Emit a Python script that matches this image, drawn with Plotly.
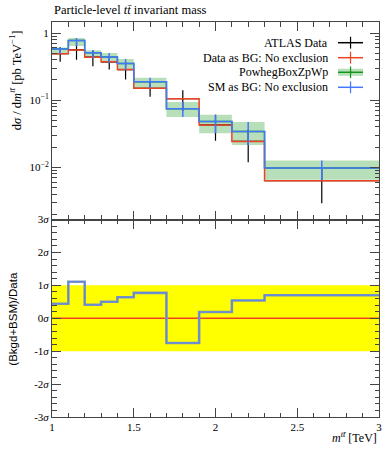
import plotly.graph_objects as go

# ---- data ----
edges = [1.0, 1.1, 1.2, 1.3, 1.4, 1.5, 1.7, 1.9, 2.1, 2.3, 3.0]
data_vals = [0.493, 0.56, 0.437, 0.372, 0.286, 0.150, 0.105, 0.0428, 0.0243, 0.00633]
data_err = [0.12, 0.16, 0.117, 0.086, 0.083, 0.037, 0.036, 0.018, 0.0124, 0.0034]
red_vals = [0.493, 0.56, 0.437, 0.372, 0.286, 0.150, 0.105, 0.0428, 0.0243, 0.00633]
blue_vals = [0.579, 0.777, 0.51, 0.438, 0.351, 0.188, 0.0748, 0.048, 0.0341, 0.00977]
green_vals = [0.579, 0.777, 0.51, 0.438, 0.351, 0.188, 0.0748, 0.048, 0.0341, 0.00977]
green_hi = [0.61, 0.84, 0.553, 0.505, 0.412, 0.215, 0.094, 0.0605, 0.0473, 0.0127]
green_lo = [0.49, 0.64, 0.426, 0.36, 0.279, 0.150, 0.056, 0.0323, 0.0215, 0.00655]
ratio_blue = [0.44, 1.11, 0.41, 0.50, 0.64, 0.77, -0.75, 0.19, 0.54, 0.70]
ratio_red = [0, 0, 0, 0, 0, 0, 0, 0, 0, 0]
band_x = [1.0, 3.0]
band_lo = [-1, -1]
band_hi = [1, 1]

top_tickvals = [1, 0.1, 0.01]
top_ticktext = ["1", "10<sup>−1</sup>", "10<sup>−2</sup>"]
ratio_tickvals = [3, 2, 1, 0, -1, -2, -3]
ratio_ticktext = ["3<i>σ</i>", "2<i>σ</i>", "1<i>σ</i>", "0<i>σ</i>", "-1<i>σ</i>", "-2<i>σ</i>", "-3<i>σ</i>"]

RED = "#EE4422"
BLUE = "#4477FF"
GREEN = "#109618"
GREEN_FILL = "rgba(16,150,24,0.3)"
SERIF = "Liberation Serif"
SANS = "Liberation Sans"

centers = [(edges[i] + edges[i + 1]) / 2 for i in range(len(edges) - 1)]
halfw = [(edges[i + 1] - edges[i]) / 2 for i in range(len(edges) - 1)]


def step(vals):
    return list(vals) + [vals[-1]]


fig = go.Figure()

# green band
fig.add_trace(go.Scatter(x=edges, y=step(green_lo), mode="lines", line=dict(width=0, shape="hv"),
                         xaxis="x2", yaxis="y2", showlegend=False, hoverinfo="skip"))
fig.add_trace(go.Scatter(x=edges, y=step(green_hi), mode="lines", line=dict(width=0, shape="hv"),
                         fill="tonexty", fillcolor=GREEN_FILL, xaxis="x2", yaxis="y2",
                         showlegend=False, hoverinfo="skip"))
fig.add_trace(go.Scatter(x=edges, y=step(green_vals), mode="lines", line=dict(color=GREEN, width=1.5, shape="hv"),
                         xaxis="x2", yaxis="y2", name="PowhegBoxZpWp", showlegend=False))

# data
fig.add_trace(go.Scatter(x=centers, y=data_vals, mode="markers", marker=dict(size=1, color="black"),
                         error_y=dict(type="data", array=data_err, color="black", thickness=1.2, width=0),
                         error_x=dict(type="data", array=halfw, color="black", thickness=1.2, width=0),
                         xaxis="x2", yaxis="y2", name="ATLAS Data", showlegend=False))
# red
fig.add_trace(go.Scatter(x=edges, y=step(red_vals), mode="lines", line=dict(color=RED, width=1.5, shape="hv"),
                         xaxis="x2", yaxis="y2", name="Data as BG: No exclusion", showlegend=False))
# blue
fig.add_trace(go.Scatter(x=edges, y=step(blue_vals), mode="lines", line=dict(color=BLUE, width=1.5, shape="hv"),
                         xaxis="x2", yaxis="y2", name="SM as BG: No exclusion", showlegend=False))
fig.add_trace(go.Scatter(x=centers, y=blue_vals, mode="markers", marker=dict(size=1, color=BLUE),
                         error_y=dict(type="data", symmetric=False,
                                      array=[h - b for h, b in zip(green_hi, blue_vals)],
                                      arrayminus=[b - l for b, l in zip(blue_vals, green_lo)],
                                      color=BLUE, thickness=1.5, width=0),
                         xaxis="x2", yaxis="y2", showlegend=False, hoverinfo="skip"))

# ratio panel
fig.add_trace(go.Scatter(x=band_x, y=band_lo, mode="lines", line=dict(width=0),
                         xaxis="x", yaxis="y", showlegend=False, hoverinfo="skip"))
fig.add_trace(go.Scatter(x=band_x, y=band_hi, mode="lines", line=dict(width=0), fill="tonexty",
                         fillcolor="#FFFF00", xaxis="x", yaxis="y", showlegend=False, hoverinfo="skip"))
fig.add_trace(go.Scatter(x=edges, y=step(ratio_red), mode="lines", line=dict(color=RED, width=1.5, shape="hv"),
                         xaxis="x", yaxis="y", showlegend=False))
fig.add_trace(go.Scatter(x=edges, y=step(ratio_blue), mode="lines", line=dict(color="#8a96a8", width=2.6, shape="hv"),
                         xaxis="x", yaxis="y", showlegend=False, hoverinfo="skip"))
fig.add_trace(go.Scatter(x=edges, y=step(ratio_blue), mode="lines", line=dict(color="#5a8ae8", width=1.2, shape="hv"),
                         xaxis="x", yaxis="y", showlegend=False))

# axes
AXC = "#444444"
tickfont = dict(family=SERIF, size=11, color="black")
xcommon = dict(range=[1, 3], showline=True, linecolor=AXC, linewidth=1, mirror="ticks",
               ticks="inside", ticklen=9, tickcolor=AXC, tick0=1, dtick=0.5, automargin=False,
               minor=dict(ticks="inside", ticklen=4.5, dtick=0.1, tickcolor=AXC, showgrid=False),
               showgrid=False, zeroline=False, tickfont=tickfont)

log_minor = [m * 10 ** k for k in range(-3, 1) for m in range(2, 10)]

fig.update_layout(
    template="none",
    width=392, height=450,
    margin=dict(l=52, r=13, t=22, b=33, autoexpand=False),
    paper_bgcolor="white", plot_bgcolor="white",
    showlegend=False,
    hovermode=False,
    xaxis=dict(**xcommon, anchor="y", showticklabels=True),
    xaxis2=dict(**xcommon, anchor="y2", matches="x", showticklabels=False),
    yaxis=dict(domain=[0, 0.5], range=[-3, 3], anchor="x", showline=True, linecolor=AXC, mirror="ticks",
               ticks="inside", ticklen=9, tickcolor=AXC, tickmode="array", tickvals=ratio_tickvals,
               ticktext=ratio_ticktext, automargin=False,
               minor=dict(ticks="inside", ticklen=4.5, dtick=0.2, tickcolor=AXC, showgrid=False),
               showgrid=False, zeroline=False, tickfont=tickfont),
    yaxis2=dict(domain=[0.5, 1], type="log", range=[-2.776, 0.164], anchor="x2", showline=True,
                linecolor=AXC, mirror="ticks", ticks="inside", ticklen=9, tickcolor=AXC,
                tickmode="array", tickvals=top_tickvals, ticktext=top_ticktext, automargin=False,
                minor=dict(ticks="inside", ticklen=4.5, tickmode="array", tickvals=log_minor,
                           tickcolor=AXC, showgrid=False),
                showgrid=False, zeroline=False, tickfont=tickfont),
)

# text
ann = []
ann.append(dict(text="Particle-level <i>t</i><i>t̄</i> invariant mass", x=0, y=1.031, xref="paper", yref="paper",
                xanchor="left", yanchor="middle", showarrow=False, font=dict(family=SERIF, size=12.5, color="black")))
ann.append(dict(text="<i>m</i><sup><i>tt̄</i></sup> [TeV]", x=1, y=-0.053, xref="paper", yref="paper",
                xanchor="right", yanchor="middle", showarrow=False, font=dict(family=SERIF, size=12, color="black")))
ann.append(dict(text="d<i>σ</i> / d<i>m</i><sup><i>tt̄</i></sup> [pb TeV<sup>−1</sup>]", x=-0.112, y=0.985,
                xref="paper", yref="paper", xanchor="center", yanchor="top", textangle=-90, showarrow=False,
                font=dict(family=SERIF, size=12.5, color="black")))
ann.append(dict(text="(Bkgd+BSM)/Data", x=-0.118, y=0.25, xref="paper", yref="paper", xanchor="center",
                yanchor="middle", textangle=-90, showarrow=False, font=dict(family=SANS, size=11.5, color="black")))

# manual legend (text right-aligned, symbol to the right)
legend_rows = [("ATLAS Data", "black", False), ("Data as BG: No exclusion", RED, False),
               ("PowhegBoxZpWp", GREEN, True), ("SM as BG: No exclusion", BLUE, False)]
row_y = [0.9476, 0.9096, 0.8727, 0.8347]
shapes = []
for (label, col, band), yy in zip(legend_rows, row_y):
    ann.append(dict(text=label, x=0.850, y=yy, xref="paper", yref="paper", xanchor="right", yanchor="middle",
                    showarrow=False, font=dict(family=SERIF, size=12, color="black")))
    if band:
        shapes.append(dict(type="rect", xref="paper", yref="paper", x0=0.8747, x1=0.951, y0=yy - 0.009,
                           y1=yy + 0.009, fillcolor=GREEN_FILL, line=dict(width=0)))
    shapes.append(dict(type="line", xref="paper", yref="paper", x0=0.8747, x1=0.951, y0=yy, y1=yy,
                       line=dict(color=col, width=1.5)))
    shapes.append(dict(type="line", xref="paper", yref="paper", x0=0.913, x1=0.913, y0=yy - 0.015,
                       y1=yy + 0.015, line=dict(color=col, width=1.2)))

fig.update_layout(annotations=ann, shapes=shapes)
# remove the default 8px page margin so the figure fills the 392x450 window
fig.write_html("out.html", config={"displayModeBar": False, "staticPlot": True},
               post_script="document.body.style.margin='0px';document.body.style.overflow='hidden';")
